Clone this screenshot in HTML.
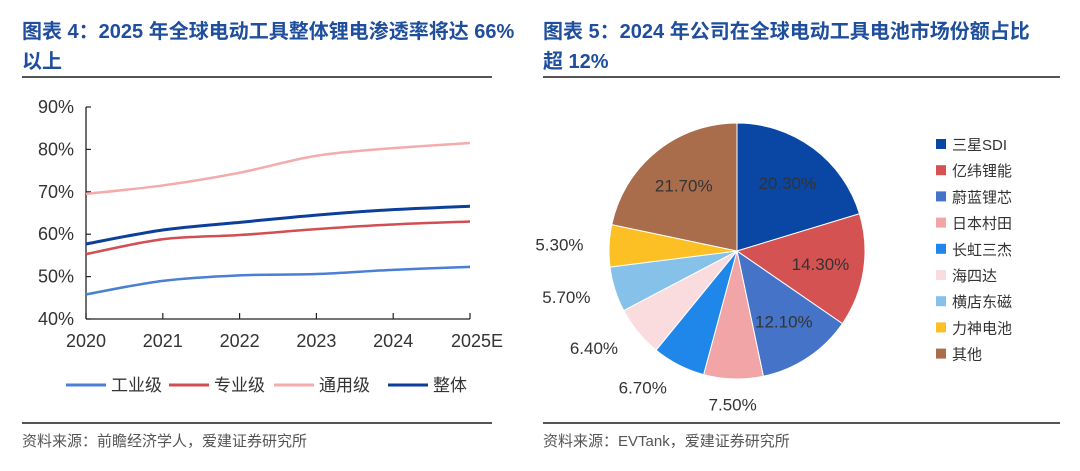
<!DOCTYPE html>
<html><head><meta charset="utf-8">
<style>
body{margin:0;width:1080px;height:471px;background:#fff;font-family:"Liberation Sans","Noto Sans CJK SC",sans-serif;overflow:hidden;position:relative}
.t{position:absolute;color:#1f4e9c;font-weight:bold;font-size:20px;line-height:30px;white-space:nowrap}
.rule{position:absolute;height:2px;background:#555}
.src{position:absolute;color:#555;font-size:15px}
svg{position:absolute;left:0;top:0}
</style></head><body>
<div class="t" style="left:22px;top:17px">图表 4：2025 年全球电动工具整体锂电渗透率将达 66%<br>以上</div>
<div class="t" style="left:543px;top:17px">图表 5：2024 年公司在全球电动工具电池市场份额占比<br>超 12%</div>
<div class="rule" style="left:22px;top:76px;width:470px"></div>
<div class="rule" style="left:543px;top:76px;width:517px"></div>
<div class="rule" style="left:22px;top:422px;width:470px;height:1.5px"></div>
<div class="rule" style="left:543px;top:422px;width:517px;height:1.5px"></div>
<div class="src" style="left:22px;top:430px">资料来源：前瞻经济学人，爱建证券研究所</div>
<div class="src" style="left:543px;top:430px">资料来源：EVTank，爱建证券研究所</div>
<svg id="s" width="1080" height="471"></svg>
<script>
const years=["2020","2021","2022","2023","2024","2025E"];
const yTicks=[40,50,60,70,80,90];
const seriesNames=["工业级","专业级","通用级","整体"];
const industrial=[45.8,49,50.3,50.6,51.6,52.3];
const professional=[55.3,58.8,59.8,61.2,62.3,63];
const general=[69.5,71.5,74.5,78.5,80.3,81.5];
const overall=[57.7,61,62.8,64.5,65.8,66.6];
const pieNames=["三星SDI","亿纬锂能","蔚蓝锂芯","日本村田","长虹三杰","海四达","横店东磁","力神电池","其他"];
const pieValues=[20.3,14.3,12.1,7.5,6.7,6.4,5.7,5.3,21.7];
const NS="http://www.w3.org/2000/svg",svg=document.getElementById('s');
function mk(t,a,txt){const e=document.createElementNS(NS,t);for(const k in a)e.setAttribute(k,a[k]);if(txt!=null)e.textContent=txt;svg.appendChild(e);return e;}
const X0=86,X1=470,Y0=319,Y1=107;
const xs=i=>X0+(X1-X0)*i/(years.length-1);
const ys=v=>Y0-(v-40)/(90-40)*(Y0-Y1);
let a=mk('line',{x1:X0,y1:Y1,x2:X0,y2:Y0,stroke:'#222','stroke-width':1.3});

a=mk('line',{x1:X0,y1:Y0,x2:X1,y2:Y0,stroke:'#222','stroke-width':1.3});

yTicks.forEach(v=>{const y=ys(v);
 const l=mk('line',{x1:X0,y1:y,x2:X0+5,y2:y,stroke:'#222','stroke-width':1.2});
 
 const t=mk('text',{x:X0-12,y:y+6,'text-anchor':'end','font-size':18,fill:'#333'},v+'%');
 });
years.forEach((yr,i)=>{const x=xs(i);
 const l=mk('line',{x1:x,y1:Y0,x2:x,y2:Y0-6,stroke:'#222','stroke-width':1.2});
 
 const t=mk('text',{x:i==years.length-1?x+7:x,y:Y0+28,'text-anchor':'middle','font-size':18,fill:'#333'},yr);
 });
function smooth(vals){const p=vals.map((v,i)=>[xs(i),ys(v)]);let d='M'+p[0];
 for(let i=0;i<p.length-1;i++){const p0=p[i-1]||p[i],p1=p[i],p2=p[i+1],p3=p[i+2]||p2;
 d+=' C'+[p1[0]+(p2[0]-p0[0])/6,p1[1]+(p2[1]-p0[1])/6]+' '+[p2[0]-(p3[0]-p1[0])/6,p2[1]-(p3[1]-p1[1])/6]+' '+p2;}return d;}
const series=[industrial,professional,general,overall];
const colors=['#4a7fd4','#d14f52','#f4abab','#0b3f9a'];
const lineNames=['line-industrial','line-professional','line-general','line-overall'];
series.forEach((s,k)=>{const p=mk('path',{d:smooth(s),fill:'none',stroke:colors[k],'stroke-width':k==3?3:2.5});
 });
const lx=[66,169,274,388];
seriesNames.forEach((n,k)=>{const l=mk('line',{x1:lx[k],y1:385,x2:lx[k]+40,y2:385,stroke:colors[k],'stroke-width':3});
 
 const t=mk('text',{x:lx[k]+45,y:391,'font-size':17,fill:'#333'},n);
 });
// pie
const CX=737,CY=251,R=128;
const pc=['#0a46a4','#d55252','#4573c8','#f2a5a6','#1f87ea','#fadcdf','#86c1ea','#fcbf24','#a96d4c'];
const tot=pieValues.reduce((s,v)=>s+v,0);let acc=0;
pieValues.forEach((v,i)=>{const a0=acc/tot*2*Math.PI;acc+=v;const a1=acc/tot*2*Math.PI;
 const pt=a=>[CX+R*Math.sin(a),CY-R*Math.cos(a)];const p0=pt(a0),p1=pt(a1);
 const p=mk('path',{d:`M${CX},${CY} L${p0} A${R},${R} 0 ${a1-a0>Math.PI?1:0} 1 ${p1} Z`,fill:pc[i],stroke:'#fff','stroke-width':1});
 
 const am=(a0+a1)/2,inside=v>10,rr=inside?R*0.66:R*1.2;
 const lxp=CX+rr*Math.sin(am),lyp=CY-rr*Math.cos(am);
 const t=mk('text',{x:lxp,y:lyp+6,'text-anchor':inside?'middle':(Math.sin(am)<-0.3?'end':'middle'),'font-size':17,fill:'#333'},v.toFixed(2)+'%');
 
 const r=mk('rect',{x:936,y:139+i*26.2,width:10,height:10,fill:pc[i]});
 
 const lt=mk('text',{x:952,y:150+i*26.2,'font-size':15,fill:'#333'},pieNames[i]);
 });
</script>
</body></html>
